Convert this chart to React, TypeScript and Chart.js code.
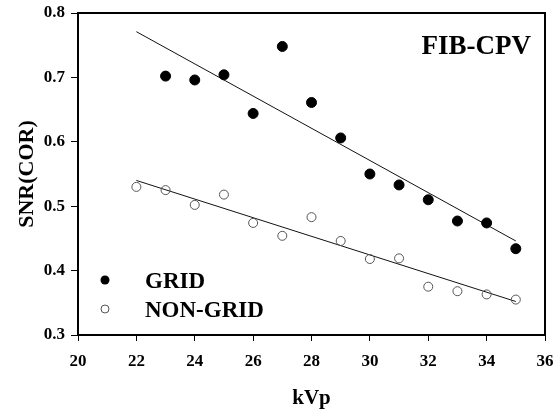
import React, { useEffect, useRef } from "react";
import { Chart, registerables } from "chart.js";

Chart.register(...registerables);

const kvp = [22, 23, 24, 25, 26, 27, 28, 29, 30, 31, 32, 33, 34, 35];
const gridKvp = [23, 24, 25, 26, 27, 28, 29, 30, 31, 32, 33, 34, 35];
const gridSnr = [0.702, 0.696, 0.704, 0.644, 0.748, 0.661, 0.606, 0.55, 0.533, 0.51, 0.477, 0.474, 0.434];
const nonGridSnr = [0.53, 0.525, 0.502, 0.518, 0.474, 0.454, 0.483, 0.446, 0.418, 0.419, 0.375, 0.368, 0.363, 0.355];
const trendKvp = [22, 35];
const gridTrend = [0.771, 0.446];
const nonGridTrend = [0.54, 0.352];
const xTicks = [20, 22, 24, 26, 28, 30, 32, 34, 36];
const yTicks = [0.3, 0.4, 0.5, 0.6, 0.7, 0.8];
const legendLabels = ["GRID", "NON-GRID"];
const panelTitle = "FIB-CPV";

const FONT = "'Liberation Serif', 'Times New Roman', serif";

const framePlugin = {
  id: "frame",
  afterDatasetsDraw(chart: any) {
    const { ctx, chartArea: a } = chart;
    ctx.save();
    ctx.strokeStyle = "#000";
    ctx.lineWidth = 2;
    ctx.strokeRect(a.left, a.top, a.right - a.left, a.bottom - a.top);
    // panel title
    ctx.fillStyle = "#000";
    ctx.font = `bold 27px ${FONT}`;
    ctx.textAlign = "right";
    ctx.textBaseline = "alphabetic";
    ctx.fillText(panelTitle, a.right - 14, a.top + 41);
    // legend
    ctx.font = `bold 23px ${FONT}`;
    ctx.textAlign = "left";
    ctx.textBaseline = "middle";
    const rows = [a.top + 267, a.top + 296];
    legendLabels.forEach((lab, i) => {
      const y = rows[i];
      const x = a.left + 27;
      ctx.beginPath();
      ctx.arc(x, y, i === 0 ? 4.5 : 4, 0, Math.PI * 2);
      if (i === 0) {
        ctx.fillStyle = "#000";
        ctx.fill();
      } else {
        ctx.strokeStyle = "#555";
        ctx.lineWidth = 1;
        ctx.stroke();
      }
      ctx.fillStyle = "#000";
      ctx.fillText(lab, a.left + 67, y + 2);
    });
    ctx.restore();
  },
};

export default function App() {
  const ref = useRef<HTMLCanvasElement>(null);
  useEffect(() => {
    document.body.style.margin = "0";
    const chart = new Chart(ref.current!, {
      type: "scatter",
      data: {
        datasets: [
          {
            label: "GRID",
            data: gridKvp.map((x, i) => ({ x, y: gridSnr[i] })),
            backgroundColor: "#000",
            borderColor: "#000",
            pointRadius: 5,
            showLine: false,
          },
          {
            label: "NON-GRID",
            data: kvp.map((x, i) => ({ x, y: nonGridSnr[i] })),
            backgroundColor: "rgba(255,255,255,0)",
            borderColor: "#555",
            borderWidth: 1,
            pointRadius: 4.5,
            showLine: false,
          },
          {
            label: "GRID trend",
            data: trendKvp.map((x, i) => ({ x, y: gridTrend[i] })),
            borderColor: "#111",
            borderWidth: 1,
            pointRadius: 0,
            showLine: true,
          },
          {
            label: "NON-GRID trend",
            data: trendKvp.map((x, i) => ({ x, y: nonGridTrend[i] })),
            borderColor: "#111",
            borderWidth: 1,
            pointRadius: 0,
            showLine: true,
          },
        ],
      },
      options: {
        animation: false,
        responsive: false,
        layout: { padding: { left: 14, top: 13, right: 10, bottom: 0 } },
        plugins: { legend: { display: false }, tooltip: { enabled: false } },
        scales: {
          x: {
            type: "linear",
            min: 20,
            max: 36,
            afterBuildTicks: (s: any) => {
              s.ticks = xTicks.map((v) => ({ value: v }));
            },
            afterFit: (s: any) => {
              s.height = 76;
              s.paddingLeft = 0;
              s.paddingRight = 0;
            },
            ticks: {
              color: "#000",
              font: { family: FONT, size: 17, weight: "bold" },
              padding: 10,
              maxRotation: 0,
            },
            grid: { display: true, drawOnChartArea: false, drawTicks: true, tickLength: 6, color: "#000", lineWidth: 1 },
            border: { display: true, color: "#000", width: 2 },
            title: {
              display: true,
              text: "kVp",
              color: "#000",
              font: { family: FONT, size: 21, weight: "bold" },
              padding: { top: 8, bottom: 0 },
            },
          },
          y: {
            type: "linear",
            min: 0.3,
            max: 0.8,
            afterBuildTicks: (s: any) => {
              s.ticks = yTicks.map((v) => ({ value: v }));
            },
            afterFit: (s: any) => {
              s.width = 64;
              s.paddingTop = 0;
              s.paddingBottom = 0;
            },
            ticks: {
              color: "#000",
              font: { family: FONT, size: 17, weight: "bold" },
              padding: 6,
              callback: (v: any) => Number(v).toFixed(1),
            },
            grid: { display: true, drawOnChartArea: false, drawTicks: true, tickLength: 7, color: "#000", lineWidth: 1 },
            border: { display: true, color: "#000", width: 2 },
            title: {
              display: true,
              text: "SNR(COR)",
              color: "#000",
              font: { family: FONT, size: 22, weight: "bold" },
              padding: { top: 0, bottom: 0 },
            },
          },
        },
      },
      plugins: [framePlugin],
    });
    return () => chart.destroy();
  }, []);
  return (
    <div style={{ width: 555, height: 411, background: "#fff" }}>
      <canvas ref={ref} width={555} height={411} style={{ display: "block" }} />
    </div>
  );
}
